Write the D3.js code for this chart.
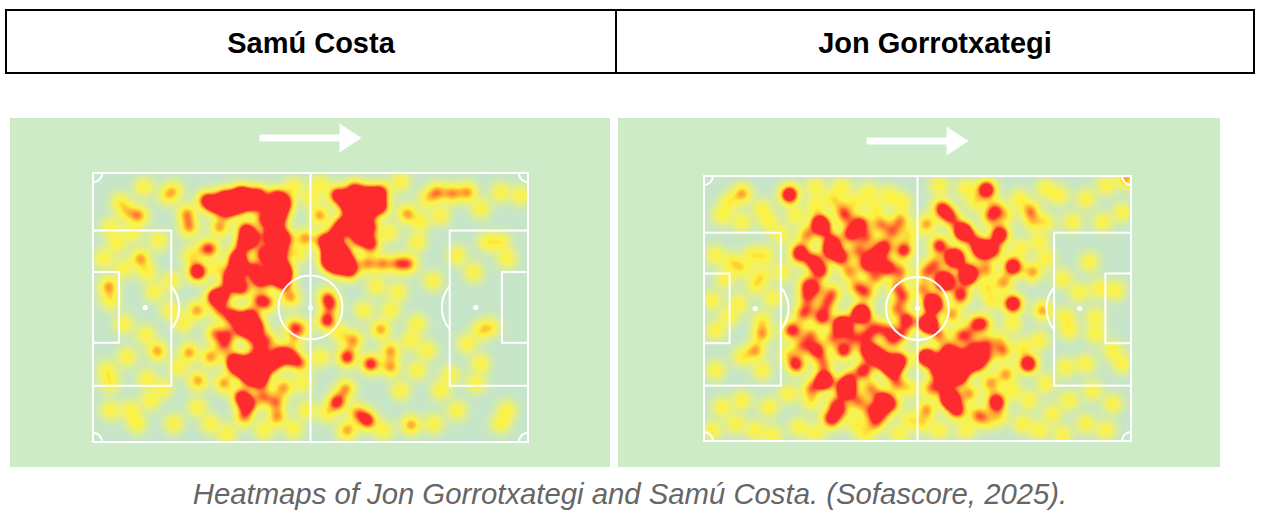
<!DOCTYPE html>
<html>
<head>
<meta charset="utf-8">
<script src="https://cdn.jsdelivr.net/npm/d3@7"></script>
<style>
  body { margin: 0; background: #fff; }
  svg { display: block; }
</style>
</head>
<body>
<div id="chart"></div>
<script>
var players = ["Samú Costa", "Jon Gorrotxategi"];
var caption = "Heatmaps of Jon Gorrotxategi and Samú Costa. (Sofascore, 2025).";

// touches: [x 0-100 (own goal -> attacking goal), y 0-100 (top -> bottom touchline), weight]
var samuTouches = [
  // dense spots
  [26,10,2.4],[30,8.8,2.4],[33.8,7.6,2.4],[36.9,11.3,2.4],[30.7,13.8,2.4],[33.5,12,2.4],
  [28,12,2.4],[32,10.5,2.4],[35,9,2.4],[38,8,2.4],
  [42.2,8.8,2.4],[41,12.5,2.4],[43,15.5,2.4],[42,20,2.4],[40.7,23.7,2.4],[43,28.6,2.4],[39.2,29.9,2.4],[43,34.8,2.4],[41,38,2.4],[43.5,40.5,2.4],
  [44,11,2.4],[44,24,2.4],[41.5,32,2.4],[44,37,2.4],[39.5,17,2.4],
  [34.6,26.2,2.4],[33,31.1,2.4],[32.3,37.3,2.4],[35,21,2.4],[38.4,39.8,2.4],[34,42.5,2.4],
  [36.5,24,2.4],[33.5,34,2.4],[31.5,40,2.4],[37,36,2.4],
  [34.5,55.8,2.4],[36.1,53,2.4],[37.6,57.1,2.4],[32,53,2.4],[35,58,2.4],
  [32.3,69.5,2.4],[35.3,73.3,2.4],[38.4,77,2.4],[38.4,67,2.4],[45.3,68.3,2.4],[41.5,70.5,2.4],[34,83,2.4],[35.5,86,2.4],
  [36,70,2.4],[33,72,2.4],[39,73,2.4],[43,67,2.4],[36,76,2.4],
  [58.3,10,2.4],[62.9,7.6,2.4],[66,12.5,2.4],[57.5,18.7,2.4],[61.4,16.2,2.4],[66,7,2.4],[63.5,20,2.4],
  [56,8,2.4],[60,6,2.4],[64,10,2.4],[59,13,2.4],[63,14,2.4],[56,22,2.4],[60,20,2.4],[61,24,2.4],
  [54.5,29.9,2.4],[58.3,32.4,2.4],[55.2,27.4,2.4],[56,35,2.4],[54,33,2.4],[63.7,26.2,2.4],[53,25,2.4],[57,29,2.4],[59,36,2.4],
  [53.7,54.7,2.4],[58.3,68.3,2.4],[63.7,70.8,2.4],[56,85,2.4],[63,91.8,2.4],
  // medium spots
  [34.6,90.6,1.6],[42.2,90.6,1.6],[43.7,79.6,1.6],[42,85,1.6],[28,59.5,1.6],[28.5,46,1.6],[24,77,1.6],[22,66.5,1.6],
  [14.7,66,1.6],[27.7,46,1.6],[29.2,50.9,1.6],[23.8,36,1.6],[21.5,15,1.6],[22,20,1.6],[24,37,1.6],[10.8,31.6,1.6],
  [10.4,15.6,1.6],[3.5,42,1.6],[38,47,1.6],[37,62,1.6],[30,64,1.6],[26.9,68.3,1.6],[23.8,50.9,1.6],
  [63,33.6,1.6],[66.5,33.6,1.6],[70,33.6,1.6],[72.5,33.6,1.6],[72.1,15,1.6],[52,15.6,1.6],[48.7,24,1.6],[53.7,46,1.6],
  [54.5,49,1.6],[45.3,46,1.6],[59.8,62.1,1.6],[66,58,1.6],[68.3,66,1.6],[68.3,72,1.6],[60.7,89,1.6],[73,93.5,1.6],
  [47.6,70.7,1.6],[58,80,1.6],[79,7,1.6],[82.5,7.5,1.6],[86,7,1.6],[58.3,95.5,1.6],
  [29,20,1.6],[27,28,1.6],[30,45,1.6],[40,48,1.6],[31,60,1.6],[40,62,1.6],[30,78,1.6],[39,83,1.6],[46,57,1.6],
  // single touches
  [11.6,5.1,1],[18.5,6.3,1],[6.2,10.7,1],[5.4,26,1],[2.3,31.6,1],[6.9,35.3,1],[12.3,36.7,1],[17,8.2,1],[28.4,35.3,1],
  [25.3,27.9,1],[22.3,30.5,1],[7.7,14.4,1],[4,20,1],[9,22,1],[15,25,1],[18,40,1],[14,44,1],
  [7,55.9,1],[3.1,73.2,1],[12.3,76.3,1],[3.9,88.1,1],[8.5,88.1,1],[13.1,84.4,1],[18.5,93,1],[23.8,86.9,1],[26.9,93,1],
  [30.7,96.8,1],[39.2,95.5,1],[10,93,1],[3.9,47.2,1],[7.7,68.3,1],[3.9,78,1],[17.7,50.9,1],[20.7,55.8,1],[19.5,72,1],
  [12,60,1],[16,80,1],[46,95,1],
  [93.6,7,1],[98.2,8.2,1],[89,13,1],[90.5,25.5,1],[93.6,25.5,1],[74.4,25.5,1],[95.1,31.7,1],[87.4,36.7,1],[83.6,30.5,1],
  [75.2,18.1,1],[79.8,15.6,1],[70.6,3.2,1],[76.7,9.4,1],[68,22,1],[78,40,1],
  [68.3,50.9,1],[62.1,50.9,1],[56.8,59.6,1],[52.2,68.3,1],[74.4,73.2,1],[70.6,80.7,1],[83.6,88.1,1],[89,58.4,1],
  [85.9,63.3,1],[91.3,57.1,1],[89,70.7,1],[93.6,93,1],[95.1,88.1,1],[79.8,80.7,1],[76.7,65.8,1],[72.9,62.1,1],
  [74.4,55.9,1],[78.2,93,1],[66.7,95.5,1],[53.7,89.2,1],[82,75,1],[88,78,1],[70,44,1],[65,42,1],
  [46,5,1],[50,9,1],[47,30,1],[48,58,1],[46,62,1],[48,78,1],[49,88,1],[52,4,1]
];

var jonTouches = [
  // dense spots
  [36.5,17.9,2.4],[34.2,21.6,2.4],[29.5,27.9,2.4],[27.2,35.5,2.4],[31.9,30.4,2.4],[38.1,33,2.4],[42.8,34.2,2.4],[42,26.7,2.4],[46.7,27.9,2.4],
  [30,25,2.4],[25.5,32,2.4],[40,30,2.4],
  [36.5,51.8,2.4],[32.6,56.9,2.4],[27.6,53.1,2.4],[32.2,55.6,2.4],[36.9,51.8,2.4],
  [26.4,65.7,2.4],[32.6,65.7,2.4],[38.1,65.7,2.4],[41.4,69.4,2.4],[43.6,70.7,2.4],[37.3,73.2,2.4],[33.4,80.8,2.4],
  [21.5,71,2.4],[27.9,77,2.4],[45.9,69.4,2.4],[33,79.5,2.4],[40,67,2.4],[44,73,2.4],
  [58.4,30.4,2.4],[61.5,38,2.4],[56,39.2,2.4],[64.6,27.9,2.4],[60.4,21,2.4],[55,26,2.4],[58.9,31.1,2.4],[65.9,27.3,2.4],[62,36.1,2.4],[56.5,39.9,2.4],
  [53.7,48,2.4],[52.2,55.6,2.4],[47.5,54.3,2.4],[53.4,48,2.4],[52.6,55.6,2.4],
  [56,69.4,2.4],[60,68.2,2.4],[63.9,70.7,2.4],[58.4,74.5,2.4],[63.1,65.7,2.4],[54.5,73.2,2.4],[57.3,65.7,2.4],[59.6,75.7,2.4],[51.8,68.2,2.4],
  [61,72,2.4],[56,78,2.4],
  [57.6,84.5,2.4],[59.2,88.3,2.4],[57.3,83.3,2.4],
  // medium spots
  [46.7,45.5,1.6],[45,50,1.6],[68.5,85.8,1.6],[75.6,70.7,1.6],[52.2,68.2,1.6],[65.4,55.6,1.6],[72.4,48,1.6],[72.4,34.2,1.6],
  [69.3,21.6,1.6],[67,15.3,1.6],[55.3,11.6,1.6],[60.7,20.4,1.6],[66.2,5.3,1.6],[76.3,12.8,1.6],[27.2,17.9,1.6],[41.2,17.9,1.6],
  [45.9,16.6,1.6],[20.1,6.5,1.6],[22.5,27.9,1.6],[24,40.5,1.6],[28.7,48,1.6],[35.8,41.8,1.6],[45.1,41.8,1.6],[42.8,58.1,1.6],
  [27.9,70.7,1.6],[31.9,88.3,1.6],[42,84.5,1.6],[38.9,88.3,1.6],[28.3,77,1.6],[30.7,85.8,1.6],[41.6,84.5,1.6],[41.6,89.5,1.6],
  [46.3,59.4,1.6],[13.5,59.4,1.6],[11.9,65.7,1.6],[8.8,6.5,1.6],[19.7,7.2,1.6],[22.1,29.8,1.6],[26.8,17.2,1.6],[56.5,13.5,1.6],
  [69,22.3,1.6],[68.2,12.2,1.6],[65.9,4.6,1.6],[72.1,33.6,1.6],[76.8,36.1,1.6],[51.8,36.1,1.6],[51.1,42.4,1.6],[98.7,0.9,1.6],
  [68.2,84.5,1.6],[76,70.7,1.6],[70.6,74.5,1.6],[65.9,63.1,1.6],[63.5,55.6,1.6],[72.1,48,1.6],[79.2,50.6,1.6],[24,45,1.6],
  [30,44,1.6],[38,60,1.6],[21,58,1.6],[34,36,1.6],[38,44,1.6],[30,61,1.6],[36,85,1.6],
  [24,22,1.6],[28,20,1.6],[33,15,1.6],[38,23,1.6],[44,21,1.6],[26,42,1.6],[36,28,1.6],[40,38,1.6],[46,36,1.6],
  [23,52,1.6],[25,60,1.6],[35,61,1.6],[40,57,1.6],[44,62,1.6],[23,64,1.6],[34,76,1.6],[39,80,1.6],[45,78,1.6],
  [25,80,1.6],[30,92,1.6],[40,93,1.6],[44,86,1.6],
  [52,18,1.6],[58,16,1.6],[63,24,1.6],[68,28,1.6],[54,33,1.6],[66,35,1.6],[60,44,1.6],[55,60,1.6],[60,60,1.6],
  [66,68,1.6],[67,78,1.6],[62,82,1.6],[53,80,1.6],[52,88,1.6],[64,90,1.6],[70,66,1.6],[58,52,1.6],[70,40,1.6],
  // single touches
  [26,4,1],[32.2,4,1],[29.9,8.4,1],[35.4,9.7,1],[38.5,5.9,1],[43.2,7.2,1],[46.3,9.7,1],[13.5,12.2,1],[5.7,9.7,1],[4.1,14.7,1],
  [8.8,17.2,1],[15.1,17.2,1],[21.3,14.7,1],[26,10.9,1],[2.6,29.8,1],[6.5,32.3,1],[11.2,29.8,1],[14.3,29.8,1],[8.8,34.8,1],
  [13.5,37.4,1],[4.9,38.6,1],[11.9,41.1,1],[18.2,36.1,1],[18,22,1],[32,12,1],[40,12,1],[48,22,1],
  [55,3.4,1],[61.2,4.6,1],[73.7,8.4,1],[79.9,4.6,1],[83.1,7.2,1],[89.3,8.4,1],[94,3.4,1],[97.9,13.5,1],[86.2,17.2,1],
  [93.2,17.2,1],[76.8,17.2,1],[79.9,17.2,1],[78.4,24.8,1],[79.9,31.1,1],[90.1,32.3,1],[83.8,38.6,1],[87.7,43.7,1],
  [92.4,42.4,1],[96.3,43,1],[70.6,14.7,1],[63.5,9.7,1],[74,27,1],[66,42,1],[60,46,1],
  [1.8,46.8,1],[8,48,1],[13.5,54.3,1],[2.6,58.1,1],[8.8,68.2,1],[2.6,73.2,1],[13.5,73.2,1],[4.1,87.1,1],[8.8,84.5,1],
  [15.1,87.1,1],[22.1,94.6,1],[29.1,90.8,1],[35.4,93.3,1],[19.7,82,1],[7.3,93.3,1],[11.9,95.8,1],[1.8,95.8,1],[15.9,97.5,1],
  [26,97,1],[37.7,97.5,1],[45.5,97.5,1],[19.7,58.1,1],[24.4,49.3,1],[5.7,53.1,1],[19.7,66.9,1],[16,46,1],[25,85,1],
  [48,80,1],[48,92,1],
  [67.4,46.8,1],[72.1,55.6,1],[69,61.9,1],[74.5,64.4,1],[78.4,61.9,1],[72.1,80.8,1],[76,84.5,1],[79.9,78.2,1],[69,90.8,1],
  [74.5,93.3,1],[78.4,95.8,1],[83.8,97.5,1],[89.3,93.3,1],[94,95.8,1],[95.6,85.8,1],[90.9,80.8,1],[85.4,84.5,1],[89.3,70.7,1],
  [84.6,72,1],[85.4,58.1,1],[91.6,59.4,1],[95.6,65.7,1],[97.9,70.7,1],[81.5,89.5,1],[51.1,93.3,1],[55,95.8,1],[61.2,95.8,1],
  [84.6,53.1,1],[91.6,53.1,1],[66,92,1],[62,60,1]
];

var heatStops = [0, 0.2, 0.6, 1.1, 1.65, 2.2];
var heatColors = ["#c6e5c9", "#d6eba3", "#eef070", "#fdf23d", "#ffa233", "#fe2b2e"];

var W = 1262, H = 532;
var svg = d3.select("#chart").append("svg")
    .attr("width", W)
    .attr("height", H)
    .style("font-family", "'Liberation Sans', Arial, sans-serif");

// header table
svg.append("rect")
    .attr("x", 6).attr("y", 10)
    .attr("width", 1248).attr("height", 63)
    .attr("fill", "none").attr("stroke", "#000").attr("stroke-width", 2);
svg.append("line")
    .attr("x1", 616).attr("x2", 616).attr("y1", 10).attr("y2", 73)
    .attr("stroke", "#000").attr("stroke-width", 2);
svg.selectAll("text.head")
    .data(players)
    .join("text")
    .attr("class", "head")
    .attr("x", function (d, i) { return i === 0 ? 311 : 935; })
    .attr("y", 53)
    .attr("text-anchor", "middle")
    .attr("font-size", 29)
    .attr("font-weight", "bold")
    .attr("fill", "#000")
    .text(function (d) { return d; });

var heatColor = d3.scaleLinear().domain(heatStops).range(heatColors).clamp(true);

var panels = [
  {touches: samuTouches, box: [10, 118, 600, 349], pitch: [93, 173, 528, 442]},
  {touches: jonTouches, box: [618, 118, 602, 349], pitch: [704, 176, 1131, 441]}
];

function heatImage(touches, xs, ys) {
  var x0 = xs.range()[0], y0 = ys.range()[0];
  var w = Math.round(xs.range()[1] - x0), h = Math.round(ys.range()[1] - y0);
  var grid = new Float32Array(w * h);
  var sigma = 6.5, r = Math.ceil(sigma * 3), s2 = 2 * sigma * sigma;
  touches.forEach(function (t) {
    var cx = xs(t[0]) - x0, cy = ys(t[1]) - y0;
    for (var j = Math.max(0, Math.floor(cy - r)); j < Math.min(h, Math.ceil(cy + r)); j++) {
      for (var i = Math.max(0, Math.floor(cx - r)); i < Math.min(w, Math.ceil(cx + r)); i++) {
        var dx = i - cx, dy = j - cy;
        grid[j * w + i] += t[2] * Math.exp(-(dx * dx + dy * dy) / s2);
      }
    }
  });
  var canvas = document.createElement("canvas");
  canvas.width = w; canvas.height = h;
  var ctx = canvas.getContext("2d"),
      img = ctx.createImageData(w, h);
  for (var k = 0, p = -1; k < w * h; k++) {
    var c = d3.rgb(heatColor(grid[k]));
    img.data[++p] = c.r;
    img.data[++p] = c.g;
    img.data[++p] = c.b;
    img.data[++p] = 255;
  }
  ctx.putImageData(img, 0, 0);
  return {href: canvas.toDataURL(), x: x0, y: y0, w: w, h: h};
}

panels.forEach(function (pn) {
  var g = svg.append("g");
  g.append("rect")
      .attr("x", pn.box[0]).attr("y", pn.box[1])
      .attr("width", pn.box[2]).attr("height", pn.box[3])
      .attr("fill", "#cdebc6");

  var xs = d3.scaleLinear().domain([0, 100]).range([pn.pitch[0], pn.pitch[2]]);
  var ys = d3.scaleLinear().domain([0, 100]).range([pn.pitch[1], pn.pitch[3]]);
  var pw = xs(100) - xs(0);

  var im = heatImage(pn.touches, xs, ys);
  g.append("image")
      .attr("href", im.href)
      .attr("x", im.x).attr("y", im.y)
      .attr("width", im.w).attr("height", im.h);

  var lines = g.append("g")
      .attr("fill", "none").attr("stroke", "#fff").attr("stroke-width", 2);

  lines.append("rect")
      .attr("x", xs(0)).attr("y", ys(0))
      .attr("width", pw).attr("height", ys(100) - ys(0));
  lines.append("line")
      .attr("x1", xs(50)).attr("x2", xs(50)).attr("y1", ys(0)).attr("y2", ys(100));
  lines.append("circle")
      .attr("cx", xs(50)).attr("cy", ys(50)).attr("r", pw * 0.0735);

  // boxes at both ends
  [0, 1].forEach(function (side) {
    var dir = side === 0 ? 1 : -1, gx = side === 0 ? 0 : 100;
    var bx = [gx, gx + dir * 18].sort(d3.ascending);
    var sx = [gx, gx + dir * 6].sort(d3.ascending);
    lines.append("rect")
        .attr("x", xs(bx[0])).attr("y", ys(21.4))
        .attr("width", xs(bx[1]) - xs(bx[0])).attr("height", ys(79.1) - ys(21.4));
    lines.append("rect")
        .attr("x", xs(sx[0])).attr("y", ys(36.8))
        .attr("width", xs(sx[1]) - xs(sx[0])).attr("height", ys(63.1) - ys(36.8));
    // penalty arc outside the box
    var spotX = xs(gx + dir * 12), edgeX = xs(gx + dir * 18), ra = pw * 0.078;
    var a = Math.acos(Math.abs(edgeX - spotX) / ra);
    var arc = d3.arc().innerRadius(ra).outerRadius(ra)
        .startAngle(side === 0 ? Math.PI / 2 - a : -Math.PI / 2 - a)
        .endAngle(side === 0 ? Math.PI / 2 + a : -Math.PI / 2 + a);
    lines.append("path")
        .attr("transform", "translate(" + spotX + "," + ys(50) + ")")
        .attr("d", arc());
    g.append("circle")
        .attr("cx", spotX).attr("cy", ys(50)).attr("r", 2.6).attr("fill", "#fff");
  });

  // corner arcs
  var rc = pw * 0.021;
  [[0, 0, Math.PI / 2, Math.PI], [100, 0, Math.PI, 1.5 * Math.PI],
   [0, 100, 0, Math.PI / 2], [100, 100, -Math.PI / 2, 0]].forEach(function (c) {
    lines.append("path")
        .attr("transform", "translate(" + xs(c[0]) + "," + ys(c[1]) + ")")
        .attr("d", d3.arc().innerRadius(rc).outerRadius(rc).startAngle(c[2]).endAngle(c[3])());
  });

  g.append("circle")
      .attr("cx", xs(50)).attr("cy", ys(50)).attr("r", 2.6).attr("fill", "#fff");

  // attacking direction arrow
  var ax = xs(50), ay = ys(0) - 35;
  var arrow = d3.path();
  arrow.moveTo(ax - 51, ay - 3.5);
  arrow.lineTo(ax + 29, ay - 3.5);
  arrow.lineTo(ax + 29, ay - 14.5);
  arrow.lineTo(ax + 51, ay);
  arrow.lineTo(ax + 29, ay + 14.5);
  arrow.lineTo(ax + 29, ay + 3.5);
  arrow.lineTo(ax - 51, ay + 3.5);
  arrow.closePath();
  g.append("path").attr("d", arrow.toString()).attr("fill", "#fff");
});

svg.append("text")
    .attr("x", 630)
    .attr("y", 504)
    .attr("text-anchor", "middle")
    .attr("font-size", 29.3)
    .attr("font-style", "italic")
    .attr("fill", "#666")
    .text(caption);
</script>
</body>
</html>
